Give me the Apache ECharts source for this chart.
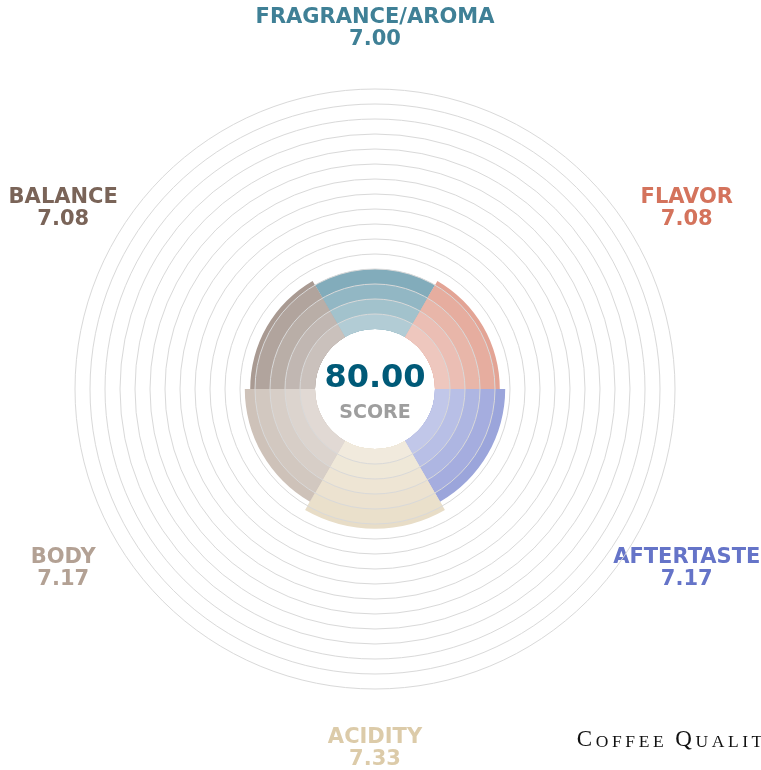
<!DOCTYPE html>
<html><head><meta charset="utf-8">
<script src="https://cdn.jsdelivr.net/npm/echarts@6/dist/echarts.min.js"></script>
<style>html,body{margin:0;padding:0;background:#fff}#c{width:761px;height:770px}</style>
</head><body><div id="c"></div>
<script>
// ---- data ----
const categories = ['FRAGRANCE/AROMA', 'FLAVOR', 'AFTERTASTE', 'ACIDITY', 'BODY', 'BALANCE'];
const scores = [7.00, 7.08, 7.17, 7.33, 7.17, 7.08];
const totalScore = '80.00';
const totalLabel = 'SCORE';
const radiusMin = 6, radiusMax = 10, radiusStep = 0.25;
const brandText = 'Coffee Quality Institute';

// ---- styles / layout ----
const colors = ['#3f8096', '#d4735c', '#6574c8', '#dccba9', '#b3a194', '#7a6458'];
const CX = 375, CY = 389;
const labelRadiusValue = 11;

function mix(hex, a) {
  const n = parseInt(hex.slice(1), 16);
  const r = (n >> 16) & 255, g = (n >> 8) & 255, b = n & 255;
  const f = c => Math.round(255 - (255 - c) * a);
  return 'rgb(' + f(r) + ',' + f(g) + ',' + f(b) + ')';
}

const nBandsMax = Math.ceil((Math.max(...scores) - radiusMin) / radiusStep - 1e-9);
const series = [];
for (let k = nBandsMax - 1; k >= 0; k--) {
  const lo = radiusMin + k * radiusStep;
  const data = scores.map((v, i) => {
    if (v <= lo + 1e-9) return '-';
    const n = Math.ceil((v - radiusMin) / radiusStep - 1e-9);
    const a = 0.4 + 0.25 * (n > 1 ? k / (n - 1) : 1);
    return { value: Math.min(v, lo + radiusStep), itemStyle: { color: mix(colors[i], a) } };
  });
  series.push({
    type: 'bar', coordinateSystem: 'polar', data: data,
    barGap: '-100%', barCategoryGap: '0%', silent: true, z: 2
  });
}

series.push({
  type: 'scatter', coordinateSystem: 'polar', clip: false, silent: true,
  symbolSize: 1, itemStyle: { color: 'rgba(0,0,0,0)', opacity: 1 }, z: 5,
  data: categories.map((c, i) => ({
    value: [labelRadiusValue, i], name: c,
    label: { color: colors[i] }
  })),
  label: {
    show: true, position: 'inside',
    formatter: p => '{n|' + p.name + '}\n{v|' + scores[p.dataIndex].toFixed(2) + '}',
    rich: {
      n: { fontSize: 21, fontWeight: 'bold', fontFamily: 'DejaVu Sans', lineHeight: 22, align: 'center' },
      v: { fontSize: 21, fontWeight: 'bold', fontFamily: 'DejaVu Sans', lineHeight: 22, align: 'center' }
    }
  }
});

const tickCount = Math.round((radiusMax - radiusMin) / radiusStep) + 1;
const splitColors = [];
for (let i = 0; i < tickCount; i++) splitColors.push(i === 0 ? 'rgba(0,0,0,0)' : '#d9d9d9');

// watermark rich text
let brandRich = '';
for (const ch of brandText) {
  if (ch === ' ') brandRich += '{sp| }';
  else if (ch === ch.toUpperCase()) brandRich += '{c|' + ch + '}';
  else brandRich += '{s|' + ch.toUpperCase() + '}';
}

const chart = echarts.init(document.getElementById('c'), null, { renderer: 'canvas' });
chart.setOption({
  animation: false,
  backgroundColor: '#fff',
  polar: { center: [CX, CY], radius: [60, 300] },
  angleAxis: {
    type: 'category', data: categories, startAngle: 120, clockwise: true,
    axisLine: { show: false }, axisTick: { show: false }, axisLabel: { show: false },
    splitLine: { show: false }
  },
  radiusAxis: {
    type: 'value', min: radiusMin, max: radiusMax, interval: radiusStep, z: 10,
    axisLine: { show: false }, axisTick: { show: false }, axisLabel: { show: false },
    splitLine: { show: true, lineStyle: { color: splitColors, width: 1 } }
  },
  series: series,
  graphic: [
    { type: 'text', x: CX, y: 379, z: 20, style: {
      text: totalScore, fill: '#005a78', fontSize: 32, fontWeight: 'bold',
      fontFamily: 'DejaVu Sans', align: 'center', verticalAlign: 'middle' } },
    { type: 'text', x: CX, y: 413, z: 20, style: {
      text: totalLabel, fill: '#9e9e9e', fontSize: 19, fontWeight: 'bold',
      fontFamily: 'DejaVu Sans', align: 'center', verticalAlign: 'middle' } },
    { type: 'text', x: 575, y: 725, z: 20, style: {
      text: brandRich, fill: '#111', align: 'left', verticalAlign: 'top',
      rich: {
        c: { fontSize: 23, fontFamily: 'Liberation Serif', padding: [0, 1.8], lineHeight: 26, verticalAlign: 'bottom', fill: '#111' },
        s: { fontSize: 17.5, fontFamily: 'Liberation Serif', padding: [0, 1.8], lineHeight: 26, verticalAlign: 'bottom', fill: '#111' },
        sp: { fontSize: 17.5, fontFamily: 'Liberation Serif', padding: [0, 1.8], lineHeight: 26, verticalAlign: 'bottom' }
      } } }
  ]
});
</script></body></html>
